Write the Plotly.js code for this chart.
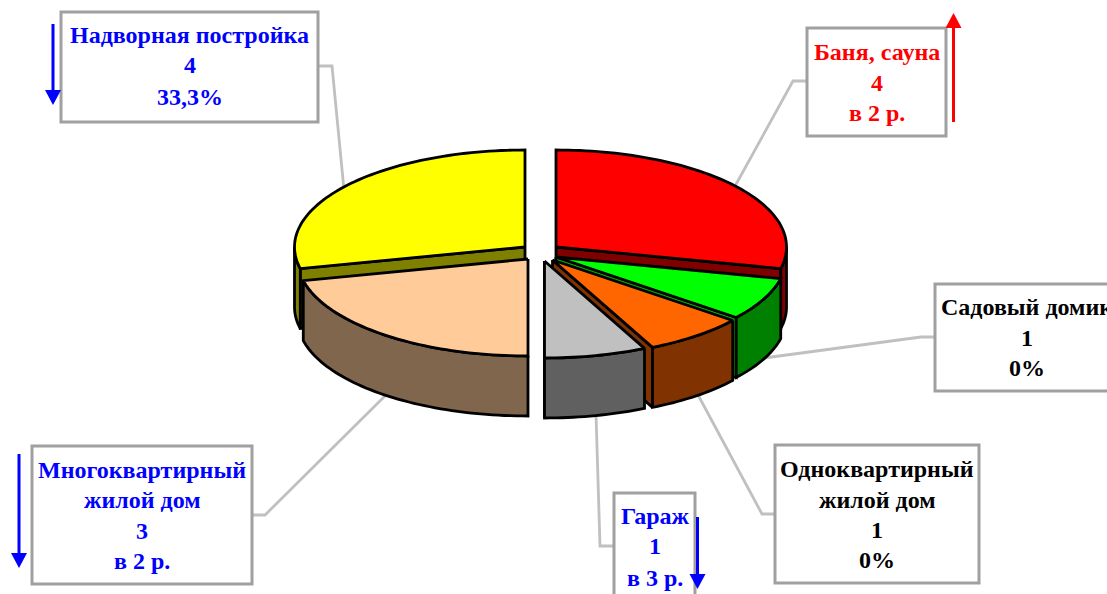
<!DOCTYPE html>
<html><head><meta charset="utf-8">
<script src="https://cdn.plot.ly/plotly-3.0.1.min.js"></script>
<style>html,body{margin:0;padding:0;background:#fff;overflow:hidden}</style>
</head><body><div id="chart" style="width:1107px;height:594px"></div>
<script>
// Data
const categories = ["Баня, сауна","Садовый домик","Одноквартирный жилой дом","Гараж","Многоквартирный жилой дом","Надворная постройка"];
const values = [4,1,1,1,3,4];
const changes = ["в 2 р.","0%","0%","в 3 р.","в 2 р.","33,3%"];

// Style
const topColors  = ["#ff0000","#00ff00","#ff6600","#c0c0c0","#ffcc99","#ffff00"];
const wallColors = ["#800000","#008000","#803300","#606060","#80664d","#808000"];
const faceColors = ["#800000","#00a800","#803300","#606060","#80664d","#808000"];
const apexX = [556,556,552.5,544.5,528,525];
const apexY = [247,257,260,261,259,247];
const RX=230.5, RY=97, DEPTH=60;
const drawOrder=[5,0,1,2,4,3];

const total=values.reduce((a,b)=>a+b,0);
const starts=[];let acc=0;values.forEach(v=>{starts.push(acc/total*360);acc+=v;});
const rad=d=>d*Math.PI/180;
const px=(i,t)=>apexX[i]+RX*Math.sin(rad(t));
const py=(i,t,dz=0)=>apexY[i]-RY*Math.cos(rad(t))+dz;
function arc(i,a,b,dz){const xs=[],ys=[];const n=Math.max(2,Math.ceil(Math.abs(b-a)/1.5));
  for(let k=0;k<=n;k++){const t=a+(b-a)*k/n;xs.push(px(i,t));ys.push(py(i,t,dz));}return [xs,ys];}
const poly=(x,y,fill)=>({x,y,type:'scatter',mode:'lines',fill:'toself',fillcolor:fill,
  line:{color:'#000',width:2.8,simplify:false},hoverinfo:'skip',showlegend:false});

const traces=[];
// Leader lines
const leaders=[
 [[319,332,344],[66,66,190]],
 [[807,793,734],[81,81,188]],
 [[935,921,764],[337,337,358]],
 [[775,762,697],[514,514,393]],
 [[614,600,596],[546,546,414]],
 [[252,265,387],[515,515,394]]
];
leaders.forEach(l=>traces.push({x:l[0],y:l[1],type:'scatter',mode:'lines',line:{color:'#c0c0c0',width:2.8},hoverinfo:'skip',showlegend:false}));

drawOrder.forEach(i=>{
  const t0=starts[i], t1=t0+values[i]/total*360;
  // Radial cut face
  if(t0>90 || t1<=180){
    const cut = t1<=180 ? t1 : t0;
    if(t1<=180 || (t0>180 && t0<270)){
      const fx=[apexX[i],px(i,cut),px(i,cut),apexX[i],apexX[i]];
      const fy=[apexY[i],py(i,cut),py(i,cut,DEPTH),apexY[i]+DEPTH,apexY[i]];
      traces.push(poly(fx,fy,faceColors[i]));
    }
  }
  // Outer wall (front half only)
  const a=Math.max(t0,90), b=Math.min(t1,270);
  if(b>a){
    const [x1,y1]=arc(i,a,b,0), [x2,y2]=arc(i,b,a,DEPTH);
    traces.push(poly(x1.concat(x2,[x1[0]]),y1.concat(y2,[y1[0]]),wallColors[i]));
  }
  // Top surface
  const [x,y]=arc(i,t0,t1,0);
  traces.push(poly([apexX[i]].concat(x,[apexX[i]]),[apexY[i]].concat(y,[apexY[i]]),topColors[i]));
});

// Label boxes
const boxes=[
 {x0:61,x1:318,y0:12,y1:122},
 {x0:807,x1:946,y0:28,y1:136},
 {x0:935,x1:1120,y0:284,y1:391},
 {x0:775,x1:979,y0:445,y1:583},
 {x0:614,x1:695,y0:493,y1:610},
 {x0:32,x1:252,y0:446,y1:584}
];
const shapes=boxes.map(b=>({type:'rect',xref:'x',yref:'y',...b,fillcolor:'#fff',line:{color:'#a0a0a0',width:3},layer:'above'}));

// Arrows
const arrow=(x,from,to,col)=>{const d=to>from?1:-1;const h=15,w=8;
 shapes.push({type:'line',xref:'x',yref:'y',x0:x,x1:x,y0:from,y1:to-d*h,line:{color:col,width:3},layer:'above'});
 shapes.push({type:'path',xref:'x',yref:'y',path:`M${x-w},${to-d*h} L${x+w},${to-d*h} L${x},${to} Z`,fillcolor:col,line:{color:col,width:0},layer:'above'});};
arrow(53,24,105,'#0000ff');
arrow(953.5,122,13,'#ff0000');
arrow(697.5,517,589,'#0000ff');
arrow(19,454,568,'#0000ff');

// Labels
const labels=[
 {cx:189.5,c:'#0000ff',l:[["Надворная постройка",35],["4",65],["33,3%",97]]},
 {cx:877,c:'#ff0000',l:[["Баня, сауна",52],["4",83],["в 2 р.",113]]},
 {cx:1027,c:'#000000',l:[["Садовый домик",307],["1",338],["0%",368]]},
 {cx:877,c:'#000000',l:[["Одноквартирный",469],["жилой дом",500],["1",530],["0%",560]]},
 {cx:655,c:'#0000ff',l:[["Гараж",516],["1",546],["в 3 р.",578]]},
 {cx:142,c:'#0000ff',l:[["Многоквартирный",470],["жилой дом",500],["3",531],["в 2 р.",561]]}
];
const annotations=[];
labels.forEach(L=>L.l.forEach(([text,y])=>annotations.push({x:L.cx,y,xref:'x',yref:'y',text:'<b>'+text+'</b>',showarrow:false,
  xanchor:'center',yanchor:'middle',font:{family:'"Liberation Serif",serif',size:24,color:L.c}})));

Plotly.newPlot('chart',traces,{
  width:1107,height:594,margin:{l:0,r:0,t:0,b:0},showlegend:false,
  paper_bgcolor:'#fff',plot_bgcolor:'#fff',hovermode:false,
  xaxis:{range:[0,1107],visible:false,fixedrange:true},
  yaxis:{range:[594,0],visible:false,fixedrange:true},
  shapes,annotations
},{displayModeBar:false,staticPlot:true});
</script></body></html>
